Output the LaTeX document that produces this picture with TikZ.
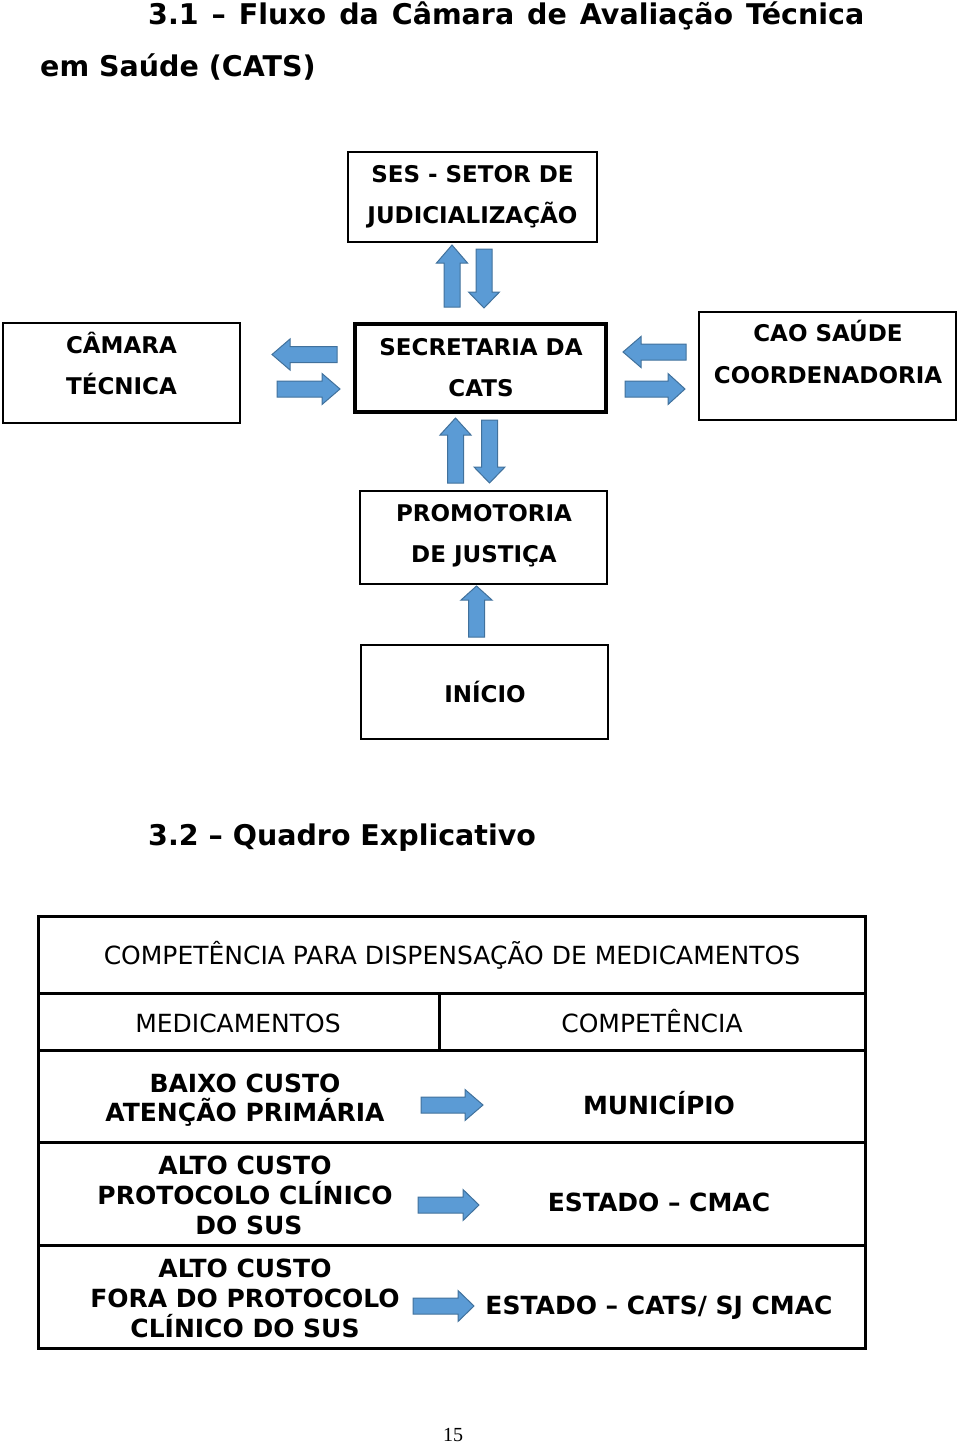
\documentclass[tikz,border=0pt]{standalone}
\usepackage{fontspec}
\setmainfont{DejaVu Sans}
\newfontfamily\pagefont{Liberation Serif}
\definecolor{arrblue}{HTML}{5B9BD5}
\definecolor{arrline}{HTML}{41719C}
\newcommand{\blockarr}[5]{%
  \begin{scope}[shift={(#1,#2)},rotate=#3]
    \draw[barrow] (0,-8)--({#4-#5},-8)--({#4-#5},-15.5)--(#4,0)--({#4-#5},15.5)--({#4-#5},8)--(0,8)--cycle;
  \end{scope}}
\begin{document}
\begin{tikzpicture}[x=1pt,y=-1pt,
  box/.style={draw=black,line width=1.6pt,fill=none,inner sep=0pt},
  thickbox/.style={box,line width=4.5pt},
  bt/.style={anchor=base,inner sep=0pt,font=\bfseries\fontsize{23}{28}\selectfont},
  tt/.style={anchor=base,inner sep=0pt,font=\fontsize{25}{30}\selectfont},
  tb/.style={anchor=base,inner sep=0pt,font=\bfseries\fontsize{25}{30}\selectfont},
  ttl/.style={anchor=base west,inner sep=0pt,font=\bfseries\fontsize{28.5}{34}\selectfont},
  barrow/.style={fill=arrblue,draw=arrline,line width=1pt,line join=miter},
  tline/.style={draw=black,line width=3pt}]
\useasboundingbox (0,0) rectangle (960,1445);

% titles
\node[ttl] (t1) at (148,25) {\makebox[716pt][s]{3.1 – Fluxo da Câmara de Avaliação Técnica}};
\node[ttl] (t2) at (40,76) {em Saúde (CATS)};
\node[ttl] (t3) at (148,845) {3.2 – Quadro Explicativo};

% boxes
\node[box,minimum width=249pt,minimum height=90pt] (ses) at (472.5,197) {};
\node[bt] (ses1) at (472.5,182.4) {SES - SETOR DE};
\node[bt] (ses2) at (472.5,223.4) {JUDICIALIZAÇÃO};

\node[box,minimum width=237pt,minimum height=100pt] (cam) at (121.5,373) {};
\node[bt] (cam1) at (121.5,353.4) {CÂMARA};
\node[bt] (cam2) at (121.5,394.4) {TÉCNICA};

\node[thickbox,minimum width=251pt,minimum height=88pt] (sec) at (480.5,368) {};
\node[bt] (sec1) at (481,355.4) {SECRETARIA DA};
\node[bt] (sec2) at (481,396.4) {CATS};

\node[box,minimum width=257pt,minimum height=108pt] (cao) at (827.5,366) {};
\node[bt] (cao1) at (828,341.4) {CAO SAÚDE};
\node[bt] (cao2) at (828,383.4) {COORDENADORIA};

\node[box,minimum width=247pt,minimum height=93pt] (pro) at (483.5,537.5) {};
\node[bt] (pro1) at (484,521.4) {PROMOTORIA};
\node[bt] (pro2) at (484,562.4) {DE JUSTIÇA};

\node[box,minimum width=247pt,minimum height=94pt] (ini) at (484.5,692) {};
\node[bt] (ini1) at (485,702.4) {INÍCIO};

% block arrows
\blockarr{452}{307}{90}{62}{18}
\blockarr{484}{249}{-90}{59}{16}
\blockarr{337}{354.5}{180}{65}{18}
\blockarr{277}{389}{0}{63}{18}
\blockarr{686}{352}{180}{63}{18}
\blockarr{625}{389}{0}{60}{17}
\blockarr{455.5}{483}{90}{65}{17}
\blockarr{489.5}{420}{-90}{63}{16}
\blockarr{476.5}{637}{90}{51}{14}

% table
\draw[tline] (38,916) rectangle (865,1348);
\draw[tline] (38,993) -- (865,993);
\draw[tline] (38,1050) -- (865,1050);
\draw[tline] (38,1142) -- (865,1142);
\draw[tline] (38,1245) -- (865,1245);
\draw[tline] (439,993) -- (439,1050);

\node[tt] (h0) at (452,964) {COMPETÊNCIA PARA DISPENSAÇÃO DE MEDICAMENTOS};
\node[tt] (h1) at (238,1032) {MEDICAMENTOS};
\node[tt] (h2) at (652,1032) {COMPETÊNCIA};

\node[tb] (r1a) at (245,1092) {BAIXO CUSTO};
\node[tb] (r1b) at (245,1121) {ATENÇÃO PRIMÁRIA};
\node[tb] (r1c) at (659,1114) {MUNICÍPIO};

\node[tb] (r2a) at (245,1174) {ALTO CUSTO};
\node[tb] (r2b) at (245,1204) {PROTOCOLO CLÍNICO};
\node[tb] (r2c) at (249,1234) {DO SUS};
\node[tb] (r2d) at (659,1211) {ESTADO – CMAC};

\node[tb] (r3a) at (245,1277) {ALTO CUSTO};
\node[tb] (r3b) at (245,1307) {FORA DO PROTOCOLO};
\node[tb] (r3c) at (245,1337) {CLÍNICO DO SUS};
\node[tb] (r3d) at (659,1314) {ESTADO – CATS/ SJ CMAC};

\blockarr{421}{1105}{0}{62}{18}
\blockarr{418}{1205}{0}{61}{16}
\blockarr{413}{1306}{0}{61}{16}

\node[inner sep=0pt,font=\pagefont\fontsize{20}{24}\selectfont] (pg) at (453,1435) {15};
\end{tikzpicture}
\end{document}
